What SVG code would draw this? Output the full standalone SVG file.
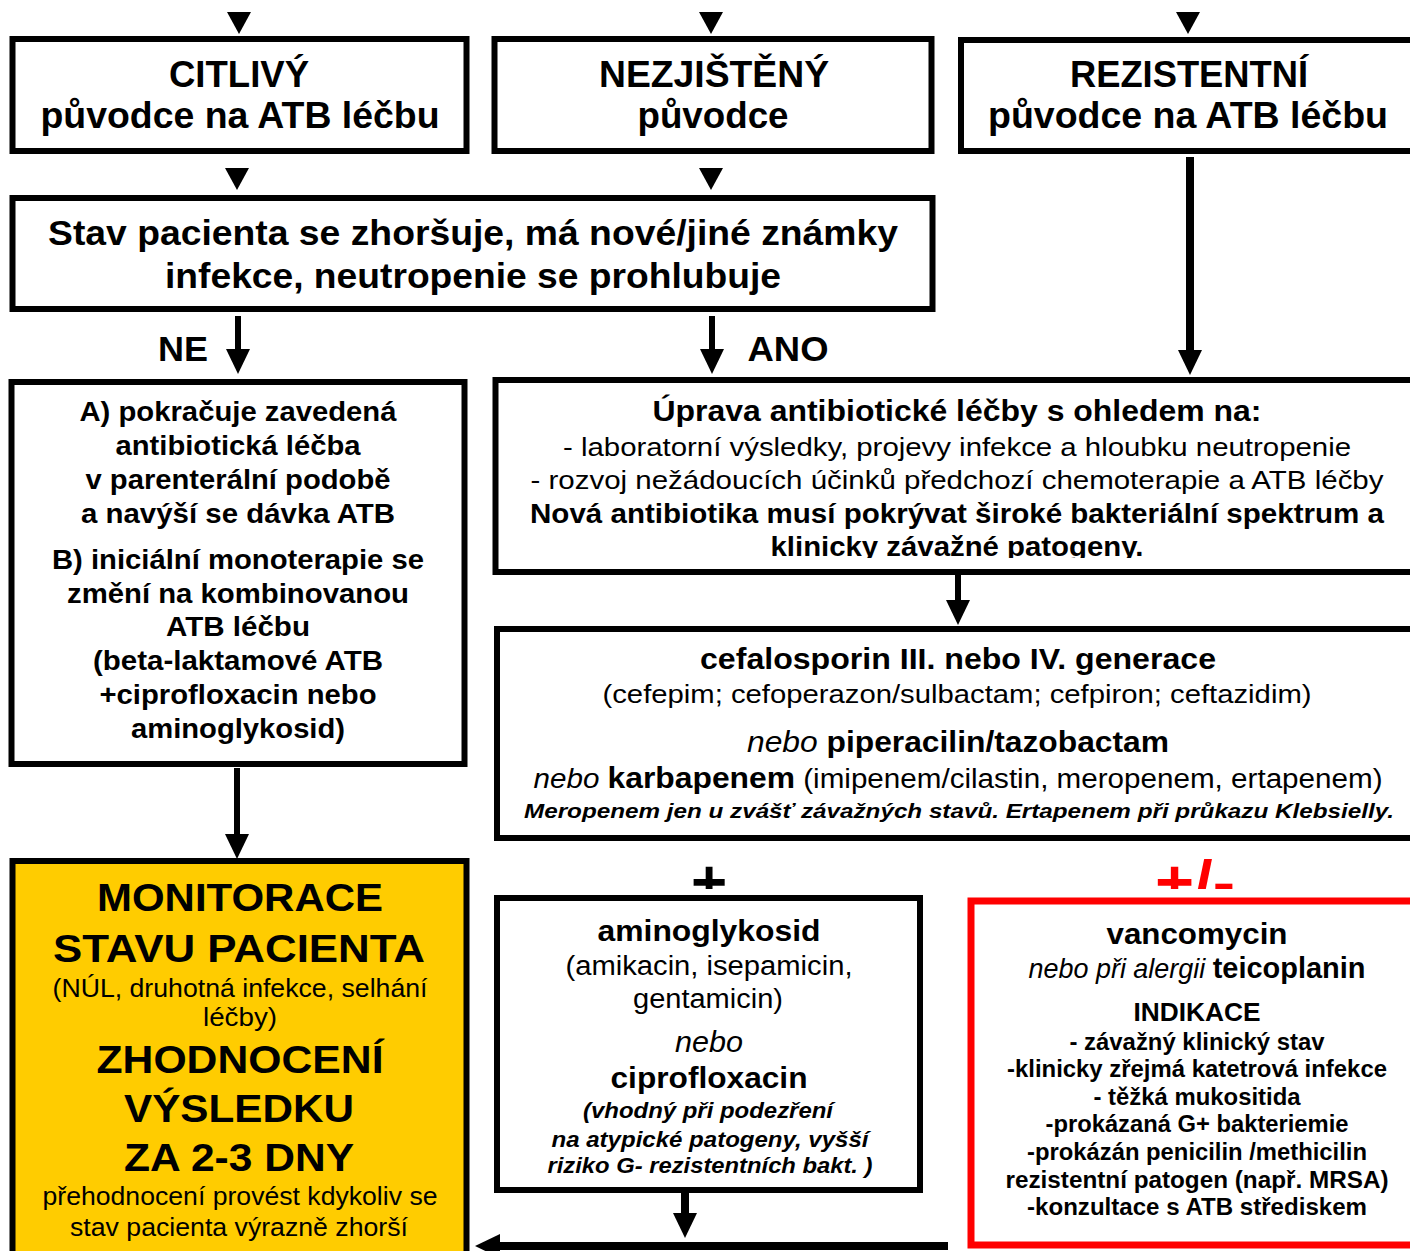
<svg xmlns="http://www.w3.org/2000/svg" width="1410" height="1251" viewBox="0 0 1410 1251">
<style>
.box{fill:#fff;stroke:#000;stroke-width:6}
.t{font-family:"Liberation Sans",Arial,sans-serif;text-anchor:middle;fill:#000}
.b{font-weight:bold}
.i{font-style:italic}
.conn{stroke:#000;fill:none}
.head{fill:#000}
</style>
<defs>
<marker id="ah" markerUnits="userSpaceOnUse" markerWidth="26" markerHeight="26" refX="0" refY="12" orient="auto" overflow="visible">
<path d="M0,0 L25,12 L0,24 z" fill="#000"/>
</marker>
<clipPath id="clipUp"><rect x="495" y="380" width="915" height="178"/></clipPath>
<clipPath id="clipPlus"><rect x="600" y="820" width="810" height="69"/></clipPath>
</defs>
<rect width="1410" height="1251" fill="#fff"/>

<g id="connectors">
<polygon class="head" points="227,12 251,12 239,34"/>
<polygon class="head" points="699,12 723,12 711,34"/>
<polygon class="head" points="1176,12 1200,12 1188,34"/>
<polygon class="head" points="225,168 249,168 237,190"/>
<polygon class="head" points="699,168 723,168 711,190"/>
<path class="conn" stroke-width="6" d="M238,316 V349" marker-end="url(#ah)"/>
<path class="conn" stroke-width="6" d="M712,316 V349" marker-end="url(#ah)"/>
<path class="conn" stroke-width="8" d="M1190,157 V350" marker-end="url(#ah)"/>
<path class="conn" stroke-width="6" d="M958,575 V600" marker-end="url(#ah)"/>
<path class="conn" stroke-width="6" d="M237,768 V834" marker-end="url(#ah)"/>
<path class="conn" stroke-width="8" d="M685,1193 V1213" marker-end="url(#ah)"/>
<path class="conn" stroke-width="8" d="M948,1246 H500" marker-end="url(#ah)"/>
<text class="t b" x="183" y="361" font-size="35" textLength="50" lengthAdjust="spacingAndGlyphs">NE</text>
<text class="t b" x="788" y="361" font-size="35" textLength="81" lengthAdjust="spacingAndGlyphs">ANO</text>
<g clip-path="url(#clipPlus)">
<text class="t b" x="709" y="903" font-size="62">+</text>
<text class="t b" x="1195" y="903" font-size="62" fill="#FF0000" style="fill:#FF0000" textLength="80" lengthAdjust="spacingAndGlyphs">+/-</text>
</g>
</g>

<g id="citlivy">
<rect class="box" x="12.5" y="39" width="454" height="112"/>
<text class="t b" x="239" y="87" font-size="36" textLength="140" lengthAdjust="spacingAndGlyphs">CITLIVÝ</text>
<text class="t b" x="240" y="128" font-size="36" textLength="399" lengthAdjust="spacingAndGlyphs">původce na ATB léčbu</text>
</g>

<g id="nezjisteny">
<rect class="box" x="494.5" y="39" width="437" height="112"/>
<text class="t b" x="714" y="87" font-size="36" textLength="230" lengthAdjust="spacingAndGlyphs">NEZJIŠTĚNÝ</text>
<text class="t b" x="713" y="128" font-size="36" textLength="151" lengthAdjust="spacingAndGlyphs">původce</text>
</g>

<g id="rezistentni">
<rect class="box" x="961" y="40" width="460" height="111"/>
<text class="t b" x="1189" y="87" font-size="36" textLength="238" lengthAdjust="spacingAndGlyphs">REZISTENTNÍ</text>
<text class="t b" x="1188" y="128" font-size="36" textLength="400" lengthAdjust="spacingAndGlyphs">původce na ATB léčbu</text>
</g>

<g id="stav">
<rect class="box" x="12.5" y="198" width="920" height="111"/>
<text class="t b" x="473" y="245" font-size="35" textLength="850" lengthAdjust="spacingAndGlyphs">Stav pacienta se zhoršuje, má nové/jiné známky</text>
<text class="t b" x="473" y="288" font-size="35" textLength="616" lengthAdjust="spacingAndGlyphs">infekce, neutropenie se prohlubuje</text>
</g>

<g id="pokracuje">
<rect class="box" x="11.5" y="382" width="453" height="382"/>
<text class="t b" x="238" y="421" font-size="27" textLength="317" lengthAdjust="spacingAndGlyphs">A) pokračuje zavedená</text>
<text class="t b" x="238" y="455" font-size="27" textLength="245" lengthAdjust="spacingAndGlyphs">antibiotická léčba</text>
<text class="t b" x="238" y="489" font-size="27" textLength="305" lengthAdjust="spacingAndGlyphs">v parenterální podobě</text>
<text class="t b" x="238" y="523" font-size="27" textLength="314" lengthAdjust="spacingAndGlyphs">a navýší se dávka ATB</text>
<text class="t b" x="238" y="569" font-size="27" textLength="372" lengthAdjust="spacingAndGlyphs">B) iniciální monoterapie se</text>
<text class="t b" x="238" y="603" font-size="27" textLength="342" lengthAdjust="spacingAndGlyphs">změní na kombinovanou</text>
<text class="t b" x="238" y="636" font-size="27" textLength="144" lengthAdjust="spacingAndGlyphs">ATB léčbu</text>
<text class="t b" x="238" y="670" font-size="27" textLength="290" lengthAdjust="spacingAndGlyphs">(beta-laktamové ATB</text>
<text class="t b" x="238" y="704" font-size="27" textLength="277" lengthAdjust="spacingAndGlyphs">+ciprofloxacin nebo</text>
<text class="t b" x="238" y="738" font-size="27" textLength="214" lengthAdjust="spacingAndGlyphs">aminoglykosid)</text>
</g>

<g id="uprava">
<rect class="box" x="495.5" y="380" width="930" height="192"/>
<g clip-path="url(#clipUp)">
<text class="t b" x="957" y="421" font-size="29" textLength="609" lengthAdjust="spacingAndGlyphs">Úprava antibiotické léčby s ohledem na:</text>
<text class="t" x="957" y="456" font-size="26" textLength="788" lengthAdjust="spacingAndGlyphs">- laboratorní výsledky, projevy infekce a hloubku neutropenie</text>
<text class="t" x="957" y="489" font-size="26" textLength="853" lengthAdjust="spacingAndGlyphs">- rozvoj nežádoucích účinků předchozí chemoterapie a ATB léčby</text>
<text class="t b" x="957" y="523" font-size="27" textLength="854" lengthAdjust="spacingAndGlyphs">Nová antibiotika musí pokrývat  široké bakteriální spektrum a</text>
<text class="t b" x="957" y="556" font-size="27" textLength="373" lengthAdjust="spacingAndGlyphs">klinicky závažné patogeny.</text>
</g>
</g>

<g id="cefalosporin">
<rect class="box" x="497" y="629" width="930" height="209"/>
<text class="t b" x="958" y="669" font-size="29" textLength="516" lengthAdjust="spacingAndGlyphs">cefalosporin III. nebo IV. generace</text>
<text class="t" x="957" y="703" font-size="26" textLength="709" lengthAdjust="spacingAndGlyphs">(cefepim; cefoperazon/sulbactam; cefpiron; ceftazidim)</text>
<text class="t" x="958" y="752" font-size="29" textLength="422" lengthAdjust="spacingAndGlyphs"><tspan class="i">nebo </tspan><tspan class="b">piperacilin/tazobactam</tspan></text>
<text class="t" x="958" y="788" font-size="27" textLength="849" lengthAdjust="spacingAndGlyphs"><tspan class="i">nebo </tspan><tspan class="b" font-size="29">karbapenem</tspan> (imipenem/cilastin, meropenem, ertapenem)</text>
<text class="t b i" x="959" y="818" font-size="21" textLength="870" lengthAdjust="spacingAndGlyphs">Meropenem jen u zvášť závažných stavů.  Ertapenem při průkazu Klebsielly.</text>
</g>

<g id="monitorace">
<rect x="12.5" y="861" width="454" height="400" fill="#FFCC00" stroke="#000" stroke-width="6"/>
<text class="t b" x="240" y="911" font-size="39" textLength="286" lengthAdjust="spacingAndGlyphs">MONITORACE</text>
<text class="t b" x="239" y="962" font-size="39" textLength="372" lengthAdjust="spacingAndGlyphs">STAVU PACIENTA</text>
<text class="t" x="240" y="997" font-size="25" textLength="375" lengthAdjust="spacingAndGlyphs">(NÚL, druhotná infekce, selhání</text>
<text class="t" x="240" y="1026" font-size="25" textLength="74" lengthAdjust="spacingAndGlyphs">léčby)</text>
<text class="t b" x="240" y="1073" font-size="39" textLength="287" lengthAdjust="spacingAndGlyphs">ZHODNOCENÍ</text>
<text class="t b" x="239" y="1122" font-size="39" textLength="230" lengthAdjust="spacingAndGlyphs">VÝSLEDKU</text>
<text class="t b" x="239" y="1171" font-size="39" textLength="230" lengthAdjust="spacingAndGlyphs">ZA 2-3 DNY</text>
<text class="t" x="240" y="1205" font-size="25" textLength="395" lengthAdjust="spacingAndGlyphs">přehodnocení provést kdykoliv se</text>
<text class="t" x="239" y="1236" font-size="25" textLength="338" lengthAdjust="spacingAndGlyphs">stav pacienta výrazně zhorší</text>
</g>

<g id="aminoglykosid">
<rect class="box" x="497" y="898" width="423" height="292"/>
<text class="t b" x="709" y="941" font-size="30" textLength="223" lengthAdjust="spacingAndGlyphs">aminoglykosid</text>
<text class="t" x="709" y="975" font-size="27" textLength="287" lengthAdjust="spacingAndGlyphs">(amikacin, isepamicin,</text>
<text class="t" x="708" y="1008" font-size="27" textLength="150" lengthAdjust="spacingAndGlyphs">gentamicin)</text>
<text class="t i" x="709" y="1052" font-size="29" textLength="68" lengthAdjust="spacingAndGlyphs">nebo</text>
<text class="t b" x="709" y="1088" font-size="30" textLength="197" lengthAdjust="spacingAndGlyphs">ciprofloxacin</text>
<text class="t b i" x="708" y="1118" font-size="22" textLength="250" lengthAdjust="spacingAndGlyphs">(vhodný při podezření</text>
<text class="t b i" x="710" y="1147" font-size="22" textLength="317" lengthAdjust="spacingAndGlyphs">na atypické patogeny, vyšší</text>
<text class="t b i" x="710" y="1173" font-size="22" textLength="325" lengthAdjust="spacingAndGlyphs">riziko G- rezistentních bakt. )</text>
</g>

<g id="vancomycin">
<rect x="971" y="901" width="460" height="344" fill="#fff" stroke="#FF0000" stroke-width="7"/>
<text class="t b" x="1197" y="944" font-size="30" textLength="181" lengthAdjust="spacingAndGlyphs">vancomycin</text>
<text class="t" x="1197" y="978" font-size="27" textLength="337" lengthAdjust="spacingAndGlyphs"><tspan class="i">nebo při alergii </tspan><tspan class="b" font-size="29">teicoplanin</tspan></text>
<text class="t b" x="1197" y="1021" font-size="26" textLength="127" lengthAdjust="spacingAndGlyphs">INDIKACE</text>
<text class="t b" x="1197" y="1050" font-size="23" textLength="255" lengthAdjust="spacingAndGlyphs">- závažný klinický stav</text>
<text class="t b" x="1197" y="1077" font-size="23" textLength="380" lengthAdjust="spacingAndGlyphs">-klinicky zřejmá katetrová infekce</text>
<text class="t b" x="1197" y="1105" font-size="23" textLength="207" lengthAdjust="spacingAndGlyphs">- těžká mukositida</text>
<text class="t b" x="1197" y="1132" font-size="23" textLength="303" lengthAdjust="spacingAndGlyphs">-prokázaná G+ bakteriemie</text>
<text class="t b" x="1197" y="1160" font-size="23" textLength="340" lengthAdjust="spacingAndGlyphs">-prokázán penicilin /methicilin</text>
<text class="t b" x="1197" y="1188" font-size="23" textLength="383" lengthAdjust="spacingAndGlyphs">rezistentní patogen  (např. MRSA)</text>
<text class="t b" x="1197" y="1215" font-size="23" textLength="340" lengthAdjust="spacingAndGlyphs">-konzultace s ATB střediskem</text>
</g>
</svg>
